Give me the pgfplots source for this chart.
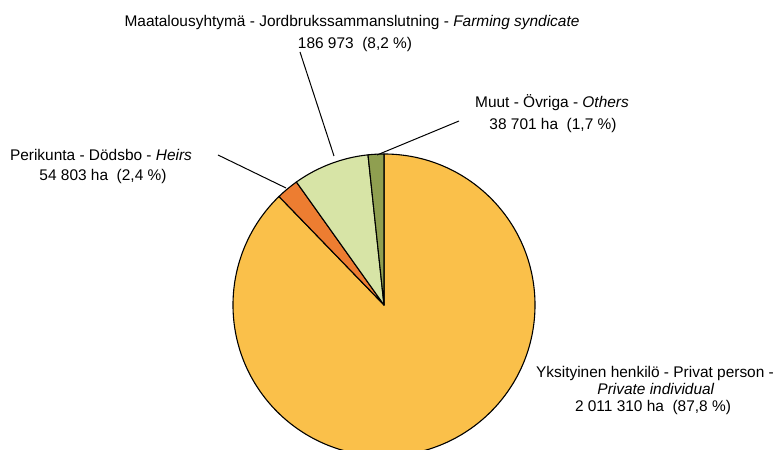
\documentclass[border=0pt]{standalone}
\usepackage{pgfplots}
\pgfplotsset{compat=1.18}
\usepackage{pgfplotstable}
\usepackage{fontspec}
\setmainfont{Liberation Sans}

\definecolor{cPriv}{RGB}{250,192,74}
\definecolor{cHeir}{RGB}{237,125,49}
\definecolor{cFarm}{RGB}{215,228,166}
\definecolor{cOther}{RGB}{143,159,80}

% area in 1000 ha, clockwise from 12 o'clock
\pgfplotstableread[col sep=comma]{
label,area,color
Private,2011.310,cPriv
Heirs,54.803,cHeir
Farming,186.973,cFarm
Others,38.701,cOther
}\piedata

\begin{document}
\begin{tikzpicture}[lbl/.style={anchor=base,inner sep=0pt,font=\fontsize{15.5}{18}\selectfont}]
\begin{axis}[x=1bp,y=1bp,xmin=0,xmax=779,ymin=0,ymax=450,hide axis,clip=false]
\coordinate (ll) at (axis cs:0,0);
\coordinate (ur) at (axis cs:779,450);
\pgfplotsextra{
  \begin{scope}
  \clip (axis cs:0,0) rectangle (axis cs:779,450);
  \pgfplotstablegetrowsof{\piedata}
  \pgfmathtruncatemacro\lastrow{\pgfplotsretval-1}
  \xdef\total{0}
  \foreach \i in {0,...,\lastrow}{
    \pgfplotstablegetelem{\i}{area}\of\piedata
    \pgfmathsetmacro\t{\total+\pgfplotsretval}
    \xdef\total{\t}
  }
  \xdef\ang{90}
  \foreach \i in {0,...,\lastrow}{
    \pgfplotstablegetelem{\i}{area}\of\piedata
    \let\v\pgfplotsretval
    \pgfplotstablegetelem{\i}{color}\of\piedata
    \let\c\pgfplotsretval
    \pgfmathsetmacro\angend{\ang-360*(\v/\total)}
    \filldraw[fill=\c,draw=black,line width=1.1bp,line join=round]
      (axis cs:384,145) -- ++(\ang:151bp)
      arc[start angle=\ang,end angle=\angend,radius=151bp] -- cycle;
    \xdef\ang{\angend}
  }
  \end{scope}
  % leader lines
  \draw[line width=1bp] (axis cs:300,398) -- (axis cs:334,294);
  \draw[line width=1bp] (axis cs:218,295) -- (axis cs:286,262);
  \draw[line width=1bp] (axis cs:459,329) -- (axis cs:377,295);
  % labels
  \node[lbl] at (axis cs:352,423) {Maatalousyhtymä - Jordbrukssammanslutning - \textit{Farming syndicate}};
  \node[lbl] at (axis cs:355,401) {186 973\ \ (8,2 \%)};
  \node[lbl] at (axis cs:552,342) {Muut - Övriga - \textit{Others}};
  \node[lbl] at (axis cs:553,320) {38 701 ha\ \ (1,7 \%)};
  \node[lbl] at (axis cs:101,289) {Perikunta - Dödsbo - \textit{Heirs}};
  \node[lbl] at (axis cs:103,269) {54 803 ha\ \ (2,4 \%)};
  \node[lbl] at (axis cs:655,72) {Yksityinen henkilö - Privat person -};
  \node[lbl] at (axis cs:656,55) {\textit{Private individual}};
  \node[lbl] at (axis cs:653,38) {2 011 310 ha\ \ (87,8 \%)};
}
\end{axis}
\pgfresetboundingbox
\path[use as bounding box] (ll) rectangle (ur);
\end{tikzpicture}
\end{document}
